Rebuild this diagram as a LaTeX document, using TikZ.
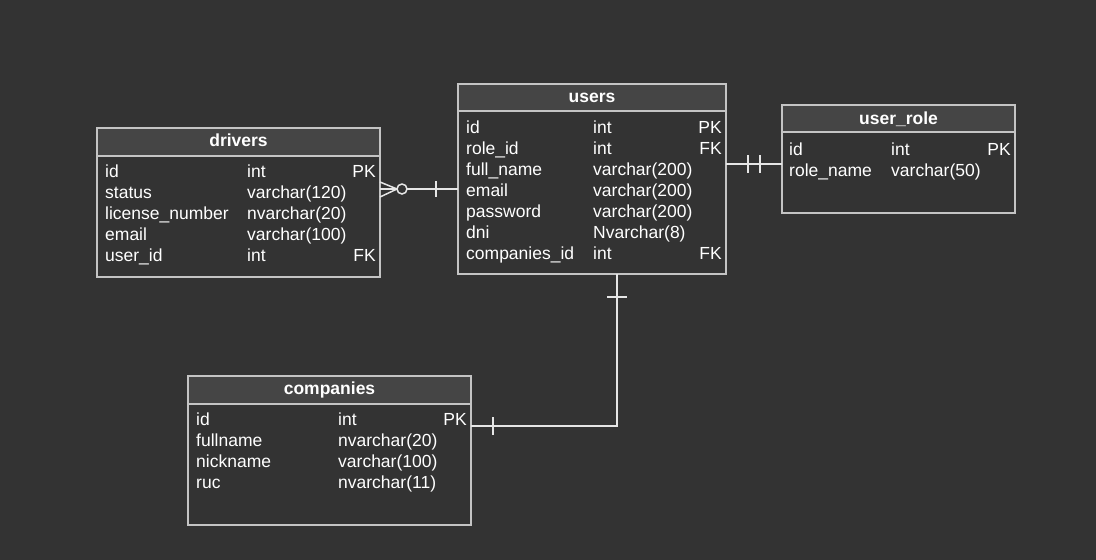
\documentclass[tikz,border=0pt]{standalone}
\usepackage{fontspec}
\setmainfont{Liberation Sans}
\usetikzlibrary{calc}
\definecolor{bg}{HTML}{333333}
\definecolor{hdrfill}{HTML}{454545}
\definecolor{bord}{HTML}{C4C4C4}
\definecolor{conn}{HTML}{E6E6E6}
\tikzset{
  tbl/.style={draw=bord, line width=1.5pt, fill=bg, inner sep=0pt, outer sep=0pt, anchor=north west},
  hdr/.style={draw=bord, line width=1.5pt, fill=hdrfill, inner sep=0pt, outer sep=0pt, anchor=north west},
  htxt/.style={text=white, font=\fontsize{17.5}{21}\selectfont\bfseries, inner sep=0pt, anchor=base},
  ftxt/.style={text=white, font=\fontsize{17.5}{21}\selectfont, inner sep=0pt, anchor=base west},
  ktxt/.style={text=white, font=\fontsize{17.5}{21}\selectfont, inner sep=0pt, anchor=base east},
  link/.style={draw=conn, line width=1.5pt},
}
\begin{document}
\begin{tikzpicture}[x=1pt,y=-1pt]
\fill[bg] (0,0) rectangle (1096,560);
\useasboundingbox (0,0) rectangle (1096,560);

% ---------- drivers ----------
\node[tbl, minimum width=283pt, minimum height=149pt] (drivers) at (97,128) {};
\node[hdr, minimum width=283pt, minimum height=28pt] (driversh) at (97,128) {};
\node[htxt] (driverst) at (238.5,146) {drivers};
\node[ftxt] (d1n) at (105,177) {id};
\node[ftxt] (d1t) at (247,177) {int};
\node[ktxt] (d1k) at (376,177) {PK};
\node[ftxt] (d2n) at (105,198) {status};
\node[ftxt] (d2t) at (247,198) {varchar(120)};
\node[ftxt] (d3n) at (105,219) {license\_number};
\node[ftxt] (d3t) at (247,219) {nvarchar(20)};
\node[ftxt] (d4n) at (105,240) {email};
\node[ftxt] (d4t) at (247,240) {varchar(100)};
\node[ftxt] (d5n) at (105,261) {user\_id};
\node[ftxt] (d5t) at (247,261) {int};
\node[ktxt] (d5k) at (376,261) {FK};

% ---------- users ----------
\node[tbl, minimum width=268pt, minimum height=190pt] (users) at (458,84) {};
\node[hdr, minimum width=268pt, minimum height=27pt] (usersh) at (458,84) {};
\node[htxt] (userst) at (592,102) {users};
\node[ftxt] (u1n) at (466,133) {id};
\node[ftxt] (u1t) at (593,133) {int};
\node[ktxt] (u1k) at (722,133) {PK};
\node[ftxt] (u2n) at (466,154) {role\_id};
\node[ftxt] (u2t) at (593,154) {int};
\node[ktxt] (u2k) at (722,154) {FK};
\node[ftxt] (u3n) at (466,175) {full\_name};
\node[ftxt] (u3t) at (593,175) {varchar(200)};
\node[ftxt] (u4n) at (466,196) {email};
\node[ftxt] (u4t) at (593,196) {varchar(200)};
\node[ftxt] (u5n) at (466,217) {password};
\node[ftxt] (u5t) at (593,217) {varchar(200)};
\node[ftxt] (u6n) at (466,238) {dni};
\node[ftxt] (u6t) at (593,238) {Nvarchar(8)};
\node[ftxt] (u7n) at (466,259) {companies\_id};
\node[ftxt] (u7t) at (593,259) {int};
\node[ktxt] (u7k) at (722,259) {FK};

% ---------- user_role ----------
\node[tbl, minimum width=233pt, minimum height=108pt] (role) at (782,105) {};
\node[hdr, minimum width=233pt, minimum height=27pt] (roleh) at (782,105) {};
\node[htxt] (rolet) at (898.5,124) {user\_role};
\node[ftxt] (r1n) at (789,155) {id};
\node[ftxt] (r1t) at (891,155) {int};
\node[ktxt] (r1k) at (1011,155) {PK};
\node[ftxt] (r2n) at (789,176) {role\_name};
\node[ftxt] (r2t) at (891,176) {varchar(50)};

% ---------- companies ----------
\node[tbl, minimum width=283pt, minimum height=149pt] (comp) at (188,376) {};
\node[hdr, minimum width=283pt, minimum height=28pt] (comph) at (188,376) {};
\node[htxt] (compt) at (329.5,394) {companies};
\node[ftxt] (c1n) at (196,425) {id};
\node[ftxt] (c1t) at (338,425) {int};
\node[ktxt] (c1k) at (467,425) {PK};
\node[ftxt] (c2n) at (196,446) {fullname};
\node[ftxt] (c2t) at (338,446) {nvarchar(20)};
\node[ftxt] (c3n) at (196,467) {nickname};
\node[ftxt] (c3t) at (338,467) {varchar(100)};
\node[ftxt] (c4n) at (196,488) {ruc};
\node[ftxt] (c4t) at (338,488) {nvarchar(11)};

% ---------- connectors ----------
% drivers -- users (many-optional to one)
\coordinate (dA) at ($(drivers.north east)+(0,61)$);
\coordinate (uA) at ($(users.north west)+(0,105)$);
\draw[link] (dA) -- (uA);
\draw[link] ($(dA)+(0,-7)$) -- ($(dA)+(17,0)$) -- ($(dA)+(0,8)$);
\draw[link, fill=bg] ($(dA)+(22,0)$) circle (5pt);
\draw[link] ($(dA)+(56,-8)$) -- ($(dA)+(56,8)$);

% users -- user_role (one to one)
\coordinate (uB) at ($(users.north east)+(0,80)$);
\coordinate (rB) at ($(role.north west)+(0,59)$);
\draw[link] (uB) -- (rB);
\draw[link] ($(uB)+(22,-9)$) -- ($(uB)+(22,9)$);
\draw[link] ($(uB)+(34,-9)$) -- ($(uB)+(34,9)$);

% users -- companies (one)
\coordinate (uC) at ($(users.south west)+(159,0)$);
\coordinate (cC) at ($(comp.north east)+(0,50)$);
\draw[link] (uC) |- (cC);
\draw[link] ($(uC)+(-10,23)$) -- ($(uC)+(10,23)$);
\draw[link] ($(cC)+(22,-9)$) -- ($(cC)+(22,9)$);
\end{tikzpicture}
\end{document}
